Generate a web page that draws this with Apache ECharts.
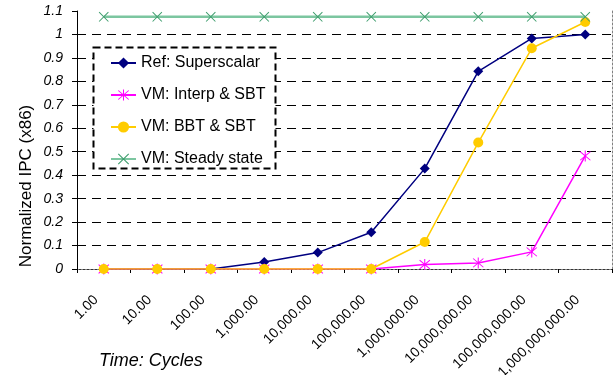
<!DOCTYPE html>
<html>
<head>
<meta charset="utf-8">
<script src="https://cdn.jsdelivr.net/npm/echarts@6/dist/echarts.min.js"></script>
<style>
  html, body { margin: 0; padding: 0; background: #fff; }
  #chart { width: 613px; height: 375px; }
</style>
</head>
<body>
<div id="chart"></div>
<script>
// Time axis (cycles, log-spaced categories)
const cycleLabels = ['1.00', '10.00', '100.00', '1,000.00', '10,000.00', '100,000.00',
  '1,000,000.00', '10,000,000.00', '100,000,000.00', '1,000,000,000.00'];

// Normalized IPC per configuration
const refSuperscalar = [0, 0, 0, 0.03, 0.07, 0.157, 0.428, 0.843, 0.983, 1.0];
const vmInterpSbt    = [0, 0, 0, 0, 0, 0, 0.019, 0.026, 0.073, 0.482];
const vmBbtSbt       = [0, 0, 0, 0, 0, 0, 0.115, 0.539, 0.941, 1.053];
const vmSteadyState  = [1.075, 1.075, 1.075, 1.075, 1.075, 1.075, 1.075, 1.075, 1.075, 1.075];

const yTicks = { min: 0, max: 1.1, step: 0.1 };

const FONT = '"Liberation Sans", Arial, sans-serif';

// asterisk and cross markers built from thin bars
const asterisk = 'path://M9.2 0L10.8 0L10.8 20L9.2 20Z M1.5 2.6L2.6 1.5L18.5 17.4L17.4 18.5Z M17.4 1.5L18.5 2.6L2.6 18.5L1.5 17.4Z';
const cross = 'path://M1.5 2.7L2.7 1.5L18.5 17.3L17.3 18.5Z M17.3 1.5L18.5 2.7L2.7 18.5L1.5 17.3Z';

const chart = echarts.init(document.getElementById('chart'), null, { renderer: 'canvas' });

chart.setOption({
  animation: false,
  backgroundColor: '#fff',
  textStyle: { fontFamily: FONT },
  title: {
    text: 'Time: Cycles',
    left: 99,
    top: 352,
    padding: 0,
    textStyle: { fontFamily: FONT, fontSize: 18, fontStyle: 'italic', fontWeight: 'normal', color: '#000' }
  },
  grid: { left: 77, right: 1, top: 11, bottom: 106, containLabel: false, outerBoundsMode: 'none' },
  legend: {
    orient: 'vertical',
    left: 93,
    top: 47,
    padding: [8, 15, 8, 17],
    itemGap: 16,
    itemWidth: 25,
    itemHeight: 14,
    backgroundColor: 'transparent',
    textStyle: { fontFamily: FONT, fontSize: 16, color: '#000' },
    data: ['Ref: Superscalar', 'VM: Interp & SBT', 'VM: BBT & SBT', 'VM: Steady state']
  },
  graphic: [{
    type: 'rect',
    z: 3,
    silent: true,
    shape: { x: 93.5, y: 47.5, width: 182, height: 121 },
    style: { fill: '#fff', stroke: '#000', lineWidth: 2, lineDash: [7, 4] }
  }, {
    // value axis title, written bottom-to-top
    type: 'text',
    z: 3,
    silent: true,
    x: 26,
    y: 186,
    rotation: Math.PI / 2,
    style: {
      text: 'Normalized IPC (x86)',
      fontFamily: FONT,
      fontSize: 17,
      fill: '#000',
      align: 'center',
      verticalAlign: 'middle'
    }
  }],
  xAxis: [{
    type: 'category',
    data: cycleLabels,
    boundaryGap: true,
    axisLine: { lineStyle: { color: '#000', width: 1 } },
    axisTick: { show: true, inside: false, length: 4, interval: 0, lineStyle: { color: '#000' } },
    axisLabel: {
      interval: 0,
      rotate: 45,
      margin: 21,
      padding: [0, 11, 0, 0],
      fontFamily: FONT,
      fontSize: 14,
      color: '#000'
    },
    splitLine: { show: false }
  }, {
    type: 'category',
    data: cycleLabels,
    position: 'top',
    boundaryGap: true,
    axisLine: { lineStyle: { color: '#808080', width: 1, type: [2, 2] } },
    axisTick: { show: false },
    axisLabel: { show: false },
    splitLine: { show: false }
  }],
  yAxis: [{
    type: 'value',
    min: yTicks.min,
    max: yTicks.max,
    interval: yTicks.step,
    axisLine: { show: true, lineStyle: { color: '#000', width: 1 } },
    axisTick: { show: true, inside: false, length: 5, lineStyle: { color: '#000' } },
    axisLabel: {
      margin: 14,
      fontFamily: FONT,
      fontSize: 14,
      fontStyle: 'italic',
      color: '#000'
    },
    splitLine: {
      show: true,
      showMaxLine: false,
      lineStyle: { color: '#000', width: 1, type: [9, 6] }
    }
  }, {
    type: 'value',
    position: 'right',
    min: yTicks.min,
    max: yTicks.max,
    interval: yTicks.step,
    axisLine: { show: true, lineStyle: { color: '#808080', width: 1, type: [2, 2] } },
    axisTick: { show: false },
    axisLabel: { show: false },
    splitLine: { show: false }
  }],
  series: [{
    name: 'Ref: Superscalar',
    type: 'line',
    data: refSuperscalar,
    symbol: 'diamond',
    symbolSize: 10,
    lineStyle: { color: '#000080', width: 1.5 },
    itemStyle: { color: '#000080' },
    z: 2
  }, {
    name: 'VM: Interp & SBT',
    type: 'line',
    data: vmInterpSbt,
    symbol: asterisk,
    symbolSize: 11,
    lineStyle: { color: '#FF00FF', width: 1.5 },
    itemStyle: { color: '#FF00FF' },
    z: 3
  }, {
    name: 'VM: BBT & SBT',
    type: 'line',
    data: vmBbtSbt,
    symbol: 'circle',
    symbolSize: 10,
    lineStyle: { color: '#FFCC00', width: 1.5 },
    itemStyle: { color: '#FFCC00' },
    z: 4
  }, {
    name: 'VM: Steady state',
    type: 'line',
    data: vmSteadyState,
    symbol: cross,
    symbolSize: 10,
    lineStyle: { color: '#7cc6a0', width: 2.5 },
    itemStyle: { color: '#3f9e6e' },
    z: 5
  }]
});
</script>
</body>
</html>
